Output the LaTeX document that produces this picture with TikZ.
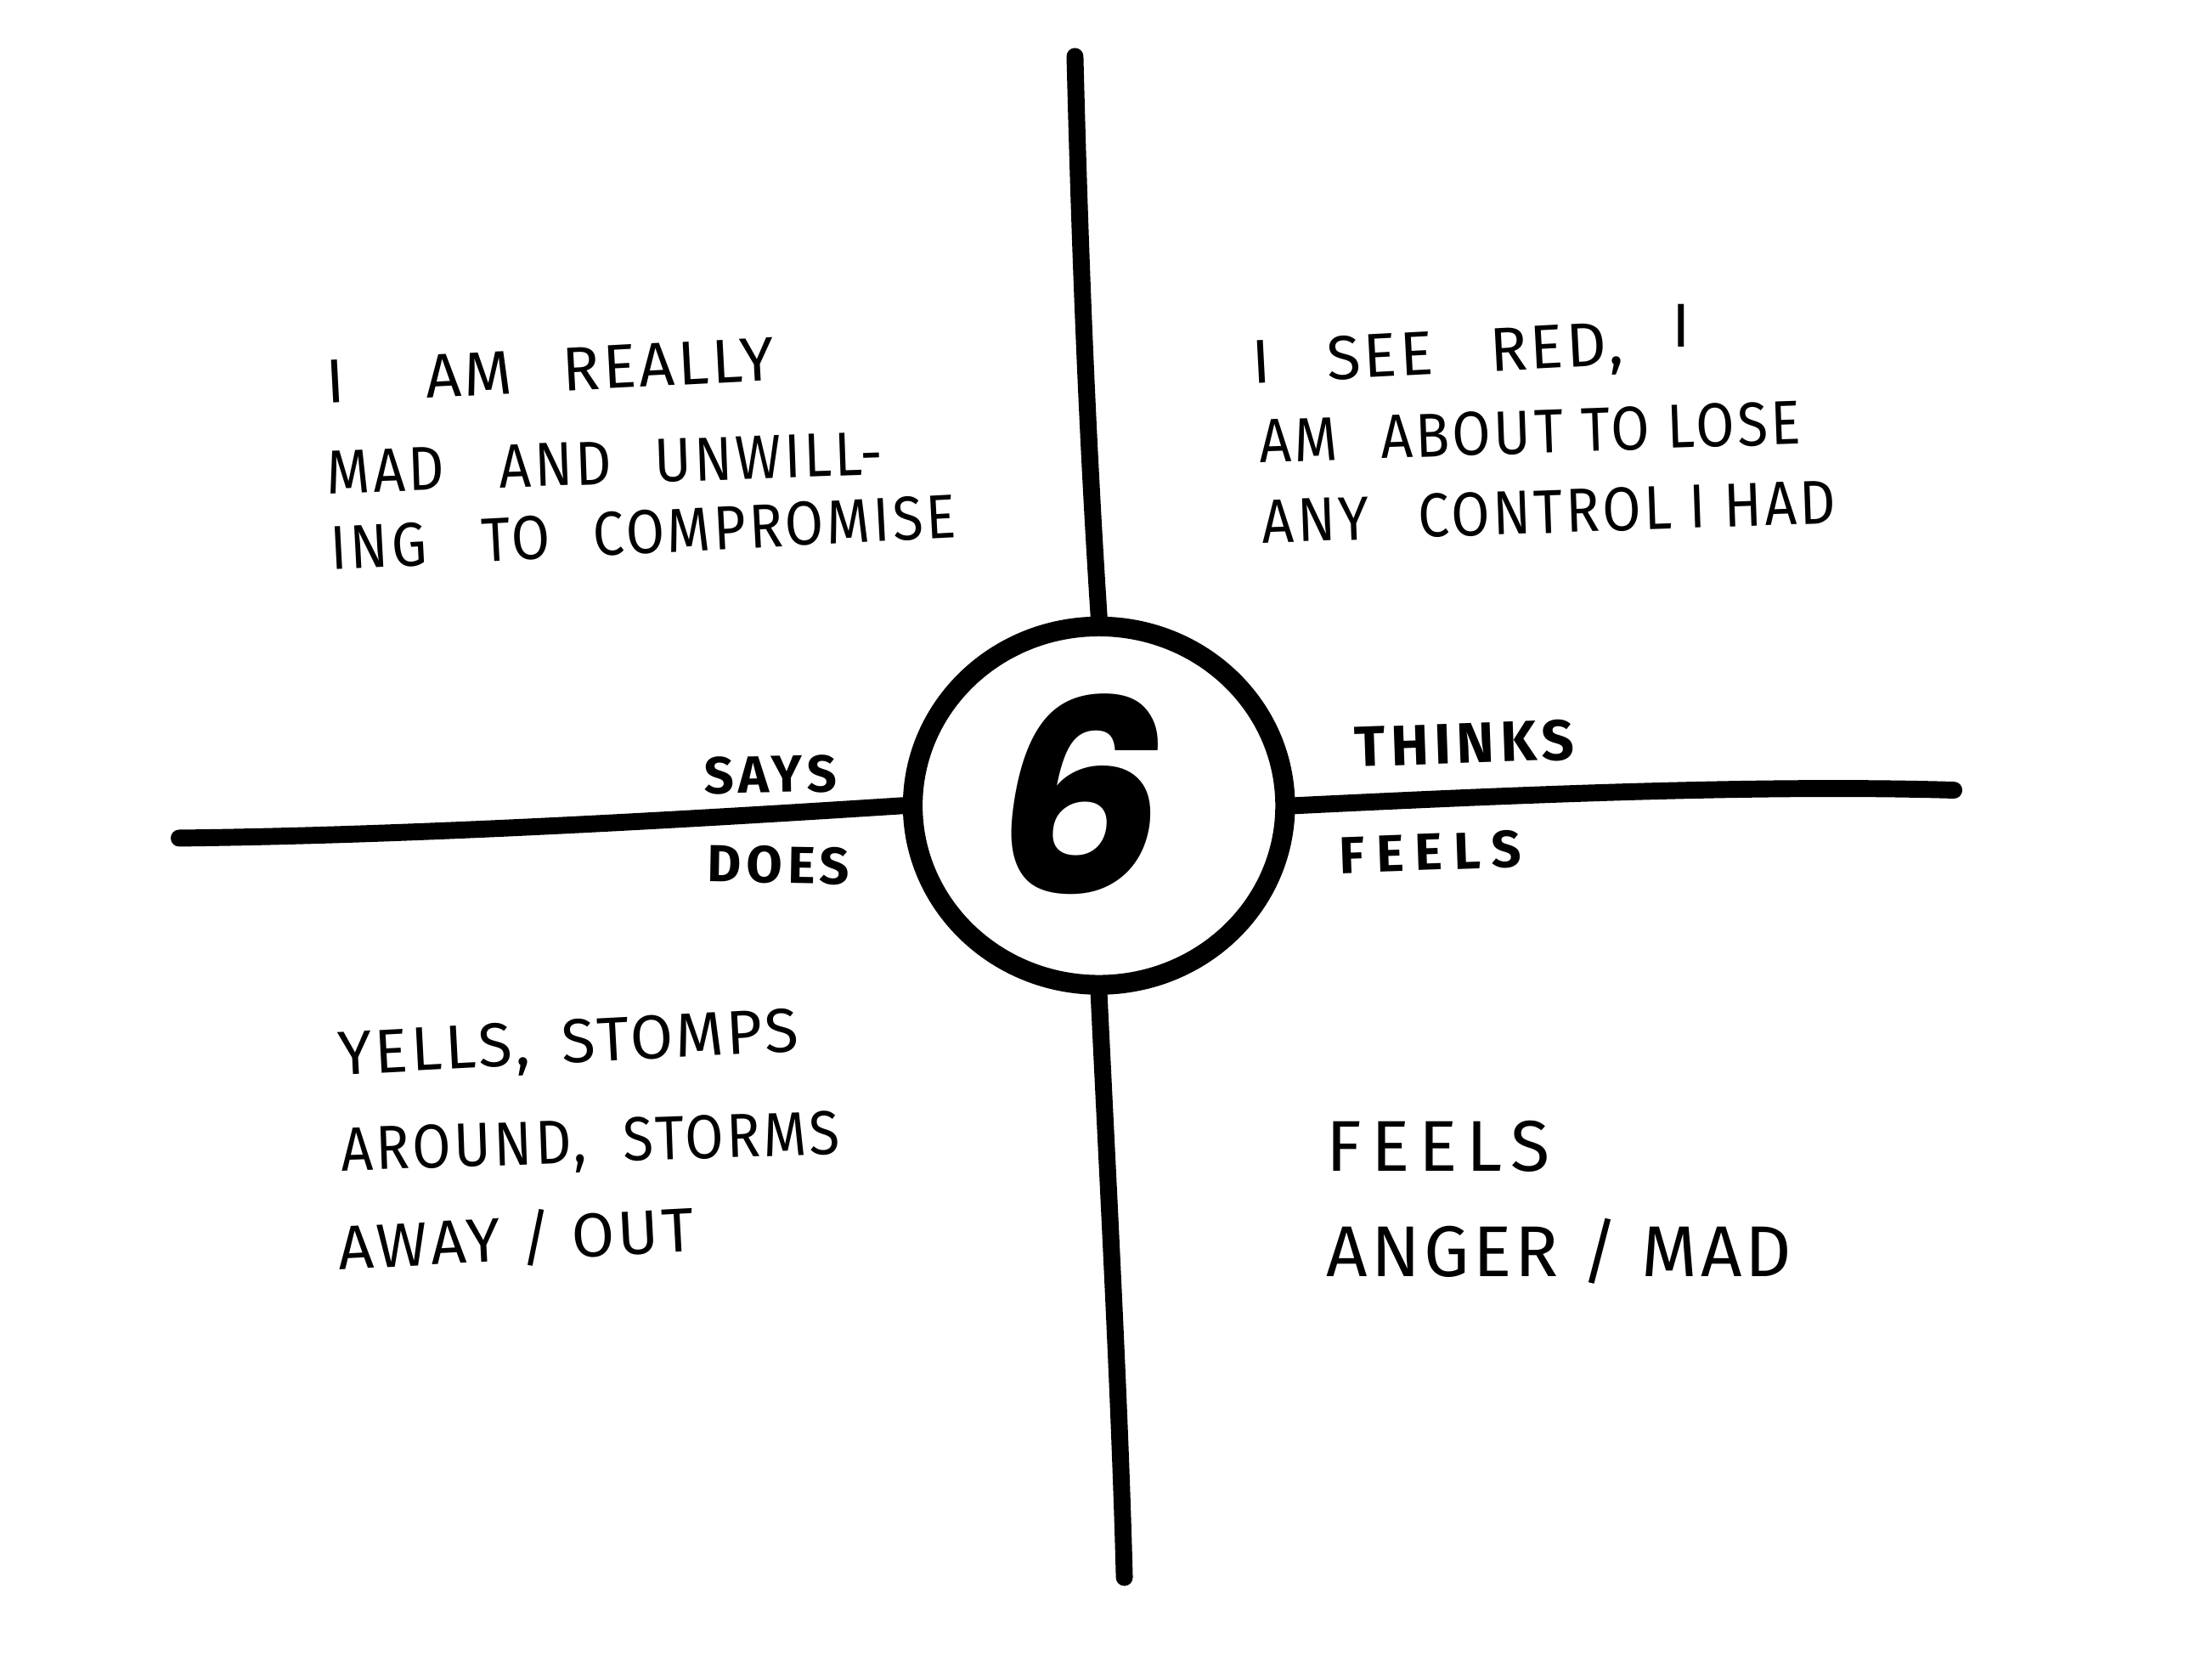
\documentclass[tikz,border=0pt]{standalone}
\usepackage{fontspec}
\setmainfont{Fira Sans}
\usetikzlibrary{shapes.geometric}
\newfontfamily\handfont[LetterSpace=5]{Fira Sans}
\newfontfamily\handnarrow[LetterSpace=5,FakeStretch=0.9]{Fira Sans}
\newfontfamily\handwide[LetterSpace=13]{Fira Sans}
\newfontfamily\labfont[LetterSpace=10]{Fira Sans}
\newfontfamily\labwidefont[LetterSpace=22]{Fira Sans}
\newfontfamily\numfont{Poppins}
\begin{document}
\begin{tikzpicture}[x=0.2mm,y=-0.2mm,
  ink/.style={line width=2.4mm,line cap=round,black},
  hand/.style={anchor=base west,inner sep=0,font=\handfont\fontsize{25}{30}\selectfont},
  narrow/.style={anchor=base west,inner sep=0,font=\handnarrow\fontsize{25}{30}\selectfont},
  handbig/.style={anchor=base west,inner sep=0,font=\handfont\fontsize{29}{34}\selectfont},
  lab/.style={inner sep=0,font=\labfont\bfseries\fontsize{21}{26}\selectfont},
  labwide/.style={inner sep=0,font=\labwidefont\bfseries\fontsize{21}{26}\selectfont}]
\fill[white] (0,0) rectangle (1568,1177);
\useasboundingbox (0,0) rectangle (1568,1177);

% central circle
\node[ellipse,draw,line width=2.8mm,minimum width=52.8mm,minimum height=50.8mm,inner sep=0] (c) at (779,571) {};
\node[inner sep=0,font=\numfont\bfseries\itshape\fontsize{108}{110}\selectfont] (num) at (766,563) {6};

% axis ends
\coordinate (vtop) at (762,40);
\coordinate (vbot) at (797,1118);
\coordinate (hleft) at (127,594);
\coordinate (hright) at (1385,560);

\draw[ink] (vtop) .. controls (766,200) and (772,330) .. (c.north);
\draw[ink] (c.south) .. controls (786,850) and (794,1000) .. (vbot);
\draw[ink] (hleft) .. controls (300,592) and (500,580) .. (c.west);
\draw[ink] (c.east) .. controls (1080,563) and (1250,556) .. (hright);

% axis labels
\node[lab,rotate=1] (says) at (546,549) {SAYS};
\node[lab,rotate=-1] (does) at (552,613) {DOES};
\node[lab,rotate=2,font=\labfont\bfseries\fontsize{23}{26}\selectfont] (thinks) at (1038,527) {THINKS};
\node[labwide,rotate=2] (feels) at (1014,604) {FEELS};

% top-left quadrant
\node[hand,rotate=3] (tl1) at (232,286) {I\hspace{1.3em}AM\hspace{0.5em} REALLY};
\node[narrow,rotate=2] (tl2) at (232,350) {MAD\hspace{0.6em} AND\hspace{0.4em} UNWILL-};
\node[narrow,rotate=3] (tl3) at (235,404) {ING\hspace{0.6em} TO\hspace{0.4em} COMPROMISE};

% top-right quadrant
\node[hand,rotate=3] (tr1) at (888,272) {I\hspace{0.6em} SEE\hspace{0.6em} RED,};
\node[hand] (tr1b) at (1185,246) {I};
\node[narrow,rotate=2] (tr2) at (893,328) {AM\hspace{0.4em} ABOUT TO LOSE};
\node[narrow,rotate=2] (tr3) at (895,385) {ANY\hspace{0.5em} CONTROL I HAD};

% bottom-left quadrant
\node[hand,rotate=3] (bl1) at (240,762) {YELLS,\hspace{0.2em} STOMPS};
\node[narrow,rotate=2] (bl2) at (242,830) {AROUND,\hspace{0.3em} STORMS};
\node[hand,rotate=3] (bl3) at (240,900) {AWAY / OUT};

% bottom-right quadrant
\node[handbig,font=\handwide\fontsize{29}{34}\selectfont] (br1) at (940,830) {FEELS};
\node[handbig] (br2) at (940,905) {ANGER / MAD};
\end{tikzpicture}
\end{document}
